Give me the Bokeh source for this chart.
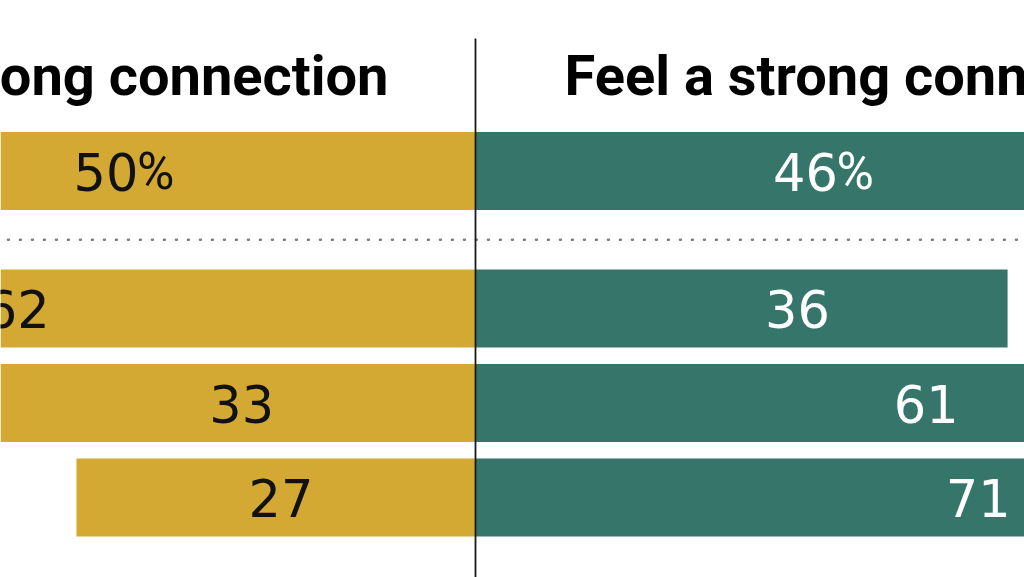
from bokeh.plotting import figure
from bokeh.models import Range1d, ColumnDataSource
from bokeh.core.properties import value
from bokeh.embed import file_html
from bokeh.resources import INLINE

# ---- data ----
categories = ["Total", "Group 1", "Group 2", "Group 3"]
not_strong = [50, 62, 33, 27]
strong = [46, 36, 61, 71]
pct_rows = ["Total"]
title_left = "Do not feel a strong connection"
title_right = "Feel a strong connection"

GOLD = "#D3A933"
TEAL = "#36756A"

# label placement nudges (screen px), to follow the reference's label layout
left_nudge = {"Group 2": 10, "Group 3": 5}
right_nudge = {"Total": -10, "Group 1": 56, "Group 3": -22}

# layout: first row separated from the others by an extra gap
gap = 0.455
ys = [0.0] + [i + gap for i in range(1, len(categories))]

src = ColumnDataSource(dict(
    cat=categories,
    y=ys,
    neg=[-v for v in not_strong],
    pos=strong,
    neg_mid=[-v / 2 for v in not_strong],
    pos_mid=[v / 2 for v in strong],
    ntxt=[str(v) for v in not_strong],
    ptxt=[str(v) for v in strong],
    noff=[left_nudge.get(c, 0) for c in categories],
    poff=[right_nudge.get(c, 0) for c in categories],
))

W, H = 1024, 577
X0, X1 = -32.138, 37.145
Y_BOT, Y_TOP = 4.3016, -1.8042
p = figure(width=W, height=H, output_backend="svg", toolbar_location=None,
           x_range=Range1d(X0, X1), y_range=Range1d(Y_BOT, Y_TOP),
           min_border=0, min_border_left=0, min_border_right=0,
           min_border_top=0, min_border_bottom=0)
p.axis.visible = False
p.grid.visible = False
p.outline_line_color = None
p.background_fill_color = "white"

bar_h = 0.825
p.hbar(y="y", left="neg", right=0, height=bar_h, source=src,
       fill_color=GOLD, line_color=None)
p.hbar(y="y", left=0, right="pos", height=bar_h, source=src,
       fill_color=TEAL, line_color=None)

# dotted separator between the first row and the rest
sep_y = (ys[0] + ys[1]) / 2
p.segment(x0=[X0 + 0.5], y0=[sep_y], x1=[X1], y1=[sep_y],
          line_color="#7a7a7a", line_width=2.4, line_dash="1 11",
          line_cap="round")

# center line
p.segment(x0=[0], y0=[-1.402], x1=[0], y1=[Y_BOT],
          line_color="#1a1a1a", line_width=1.8)

lab_font = value("DejaVu Sans")
p.text(x="neg_mid", y="y", text="ntxt", source=src, text_align="center",
       text_baseline="middle", text_font=lab_font, text_font_size="51px",
       text_color="#111111", x_offset="noff", y_offset=1)
p.text(x="pos_mid", y="y", text="ptxt", source=src, text_align="center",
       text_baseline="middle", text_font=lab_font, text_font_size="51px",
       text_color="white", x_offset="poff", y_offset=1)

# percent signs on the first row
pi = [categories.index(c) for c in pct_rows]
pct_font = value("Roboto")
p.text(x=[-not_strong[i] / 2 for i in pi], y=[ys[i] for i in pi], text=["%"] * len(pi),
       text_align="left", text_baseline="middle", text_font=pct_font,
       text_font_size="51px", text_color="#111111",
       x_offset=[31 + left_nudge.get(categories[i], 0) for i in pi], y_offset=1)
p.text(x=[strong[i] / 2 for i in pi], y=[ys[i] for i in pi], text=["%"] * len(pi),
       text_align="left", text_baseline="middle", text_font=pct_font,
       text_font_size="51px", text_color="white",
       x_offset=[31 + right_nudge.get(categories[i], 0) for i in pi], y_offset=1)

title_font = value("Roboto")
p.text(x=[0], y=[-1.0], text=[title_left], text_align="right",
       text_baseline="alphabetic", text_font=title_font, text_font_style="bold",
       text_font_size="56px", text_color="black", x_offset=-87)
p.text(x=[0], y=[-1.0], text=[title_right], text_align="left",
       text_baseline="alphabetic", text_font=title_font, text_font_style="bold",
       text_font_size="56px", text_color="black", x_offset=89)

open("out.html", "w").write(file_html(p, INLINE))
